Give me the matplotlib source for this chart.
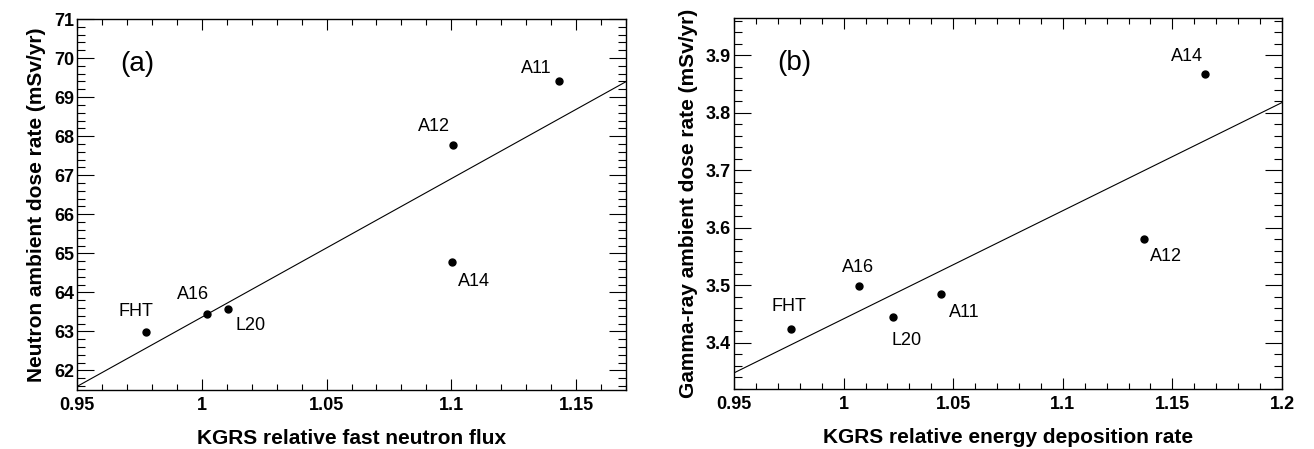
import matplotlib
matplotlib.use("Agg")
import matplotlib.pyplot as plt
from matplotlib.ticker import MultipleLocator, FuncFormatter

plt.rcParams['font.family'] = ['Liberation Sans', 'DejaVu Sans']

# (a) neutron
sites_a = ['FHT', 'A16', 'L20', 'A12', 'A14', 'A11']
flux_a = [0.9777, 1.0022, 1.0104, 1.1005, 1.1002, 1.1433]
dose_a = [62.98, 63.45, 63.57, 67.77, 64.77, 69.41]
fit_a = [61.59, 35.48]   # intercept at x=0.95, slope
# label offsets (pixels)
off_a = [(-10, 21), (-14, 19), (23, -16), (-19, 19), (22, -19), (-23, 13)]

# (b) gamma-ray
sites_b = ['FHT', 'A16', 'L20', 'A11', 'A12', 'A14']
rate_b = [0.9759, 1.0068, 1.0224, 1.0443, 1.1370, 1.1649]
dose_b = [3.425, 3.499, 3.445, 3.485, 3.581, 3.867]
fit_b = [3.348, 1.88]
off_b = [(-2, 22), (0, 19), (14, -23), (24, -18), (22, -18), (-18, 18)]

fig = plt.figure(figsize=(13.14, 4.49), dpi=100)
ax1 = fig.add_axes([77/1314, 1-390/449, 549/1314, 371/449])
ax2 = fig.add_axes([734/1314, 1-389/449, 548/1314, 371/449])

fmt = FuncFormatter(lambda v, p: '%g' % round(v, 4))


def draw(ax, xs, ys, names, offs, fit, xlim, ylim, ymaj, ymin, tag, xlab, ylab):
    x0, x1 = xlim
    ax.plot([x0, x1], [fit[0], fit[0] + fit[1] * (x1 - x0)], color='black', lw=0.8)
    ax.plot(xs, ys, 'o', color='black', ms=5)
    for x, y, n, o in zip(xs, ys, names, offs):
        ax.annotate(n, (x, y), xytext=o, textcoords='offset pixels',
                    ha='center', va='center', fontsize=13)
    ax.set_xlim(xlim)
    ax.set_ylim(ylim)
    ax.xaxis.set_major_locator(MultipleLocator(0.05))
    ax.xaxis.set_minor_locator(MultipleLocator(0.01))
    ax.yaxis.set_major_locator(MultipleLocator(ymaj))
    ax.yaxis.set_minor_locator(MultipleLocator(ymin))
    ax.xaxis.set_major_formatter(fmt)
    ax.yaxis.set_major_formatter(fmt)
    ax.tick_params(axis='x', which='major', direction='in', length=8, width=0.8,
                   top=True, pad=5, labelsize=13)
    ax.tick_params(axis='x', which='minor', direction='in', length=4.3, width=0.8, top=True)
    ax.tick_params(axis='y', which='major', direction='in', length=12, width=0.8,
                   right=True, pad=2, labelsize=13)
    ax.tick_params(axis='y', which='minor', direction='in', length=6, width=0.8, right=True)
    for lab in ax.get_xticklabels() + ax.get_yticklabels():
        lab.set_fontweight('bold')
    for s in ax.spines.values():
        s.set_linewidth(1.0)
    ax.text(0.11, 0.878, tag, transform=ax.transAxes, fontsize=20,
            ha='center', va='center')
    ax.set_xlabel(xlab, fontsize=15, fontweight='bold', labelpad=11)
    ax.set_ylabel(ylab, fontsize=15, fontweight='bold', labelpad=6)


draw(ax1, flux_a, dose_a, sites_a, off_a, fit_a, (0.95, 1.17), (61.5, 71.0), 1, 0.2,
     '(a)', 'KGRS relative fast neutron flux', 'Neutron ambient dose rate (mSv/yr)')
draw(ax2, rate_b, dose_b, sites_b, off_b, fit_b, (0.95, 1.2), (3.32, 3.965), 0.1, 0.02,
     '(b)', 'KGRS relative energy deposition rate', 'Gamma-ray ambient dose rate (mSv/yr)')

fig.savefig('out.png', dpi=100)
